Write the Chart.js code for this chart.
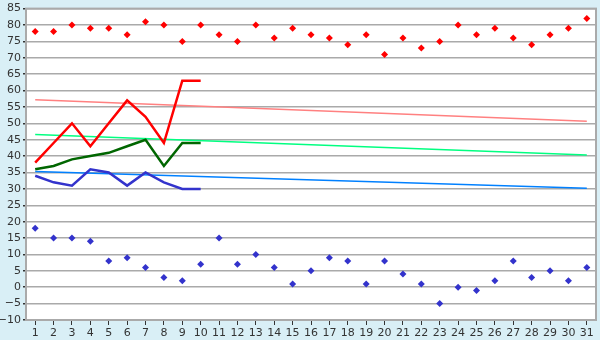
<!DOCTYPE html>
<html lang="en">
<head>
<meta charset="UTF-8">
<title>chart</title>
<script src="https://cdn.jsdelivr.net/npm/chart.js@4/dist/chart.umd.min.js"></script>
<style>
  html, body { margin: 0; padding: 0; background: #d9eff6; }
  #wrap { width: 600px; height: 340px; }
</style>
</head>
<body>
<div id="wrap"><canvas id="chart"></canvas></div>
<script>
  // days of the month
  var days = [];
  for (var d = 1; d <= 31; d++) days.push(String(d));

  // scattered points
  var highs = [78, 78, 80, 79, 79, 77, 81, 80, 75, 80, 77, 75, 80, 76, 79, 77, 76, 74, 77, 71, 76, 73, 75, 80, 77, 79, 76, 74, 77, 79, 82];
  var lows  = [18, 15, 15, 14, 8, 9, 6, 3, 2, 7, 15, 7, 10, 6, 1, 5, 9, 8, 1, 8, 4, 1, -5, 0, -1, 2, 8, 3, 5, 2, 6];

  // lines for the first ten days
  var redLine   = [38, 44, 50, 43, 50, 57, 52, 44, 63, 63];
  var greenLine = [36, 37, 39, 40, 41, 43, 45, 37, 44, 44];
  var blueLine  = [34, 32, 31, 36, 35, 31, 35, 32, 30, 30];

  // trend lines: value at day 1 and day 31
  var trendHigh = [57.2, 50.6];
  var trendMid  = [46.6, 40.3];
  var trendLow  = [35.3, 30.2];

  function trend(v) {
    return [{x: days[0], y: v[0]}, {x: days[days.length - 1], y: v[1]}];
  }

  var bgPlugin = {
    id: 'bg',
    beforeDraw: function(chart) {
      var c = chart.ctx, a = chart.chartArea;
      c.save();
      c.fillStyle = '#d9eff6';
      c.fillRect(0, 0, chart.width, chart.height);
      c.fillStyle = '#ffffff';
      c.fillRect(a.left, a.top, a.right - a.left, a.bottom - a.top);
      c.restore();
    },
    afterDatasetsDraw: function(chart) {
      var c = chart.ctx, a = chart.chartArea;
      c.save();
      c.strokeStyle = '#aaaaaa';
      c.lineWidth = 2;
      c.strokeRect(a.left, a.top, a.right - a.left, a.bottom - a.top);
      c.restore();
    }
  };

  var font = { family: 'DejaVu Sans', size: 11 };

  new Chart(document.getElementById('chart'), {
    type: 'line',
    data: {
      labels: days,
      datasets: [
        { data: highs, showLine: false, pointStyle: 'rectRot', pointRadius: 3.5, pointBorderWidth: 0, backgroundColor: '#ff0000', borderColor: '#ff0000', order: 1 },
        { data: lows, showLine: false, pointStyle: 'rectRot', pointRadius: 3.5, pointBorderWidth: 0, backgroundColor: '#3333cc', borderColor: '#3333cc', order: 1 },
        { data: redLine, borderColor: '#ff0000', borderWidth: 2.5, pointRadius: 0, tension: 0, order: 2 },
        { data: greenLine, borderColor: '#006600', borderWidth: 2.5, pointRadius: 0, tension: 0, order: 2 },
        { data: blueLine, borderColor: '#3333cc', borderWidth: 2.5, pointRadius: 0, tension: 0, order: 2 },
        { data: trend(trendHigh), borderColor: '#ff8080', borderWidth: 1.5, pointRadius: 0, order: 3 },
        { data: trend(trendMid), borderColor: '#00ff80', borderWidth: 1.5, pointRadius: 0, order: 3 },
        { data: trend(trendLow), borderColor: '#0080ff', borderWidth: 1.5, pointRadius: 0, order: 3 }
      ]
    },
    options: {
      responsive: true,
      maintainAspectRatio: false,
      animation: false,
      layout: { padding: { top: 5, right: 4, left: 0, bottom: 0 } },
      plugins: { legend: { display: false }, tooltip: { enabled: false } },
      scales: {
        x: {
          offset: true,
          grid: { display: true, drawOnChartArea: false, drawTicks: true, tickLength: 5, tickColor: '#333333', offset: false },
          border: { display: false },
          ticks: { color: '#333333', font: font, padding: 2, maxRotation: 0, autoSkip: false },
          afterFit: function(s) { s.height = 20; }
        },
        y: {
          min: -10,
          max: 85,
          grid: { color: '#aaaaaa', lineWidth: 1.5, tickLength: 3, tickColor: '#333333' },
          border: { display: false },
          ticks: {
            stepSize: 5,
            color: '#333333',
            font: font,
            padding: 2,
            callback: function(v) { return String(v).replace('-', '\u2212'); }
          },
          afterFit: function(s) { s.width = 26; }
        }
      }
    },
    plugins: [bgPlugin]
  });
</script>
</body>
</html>
